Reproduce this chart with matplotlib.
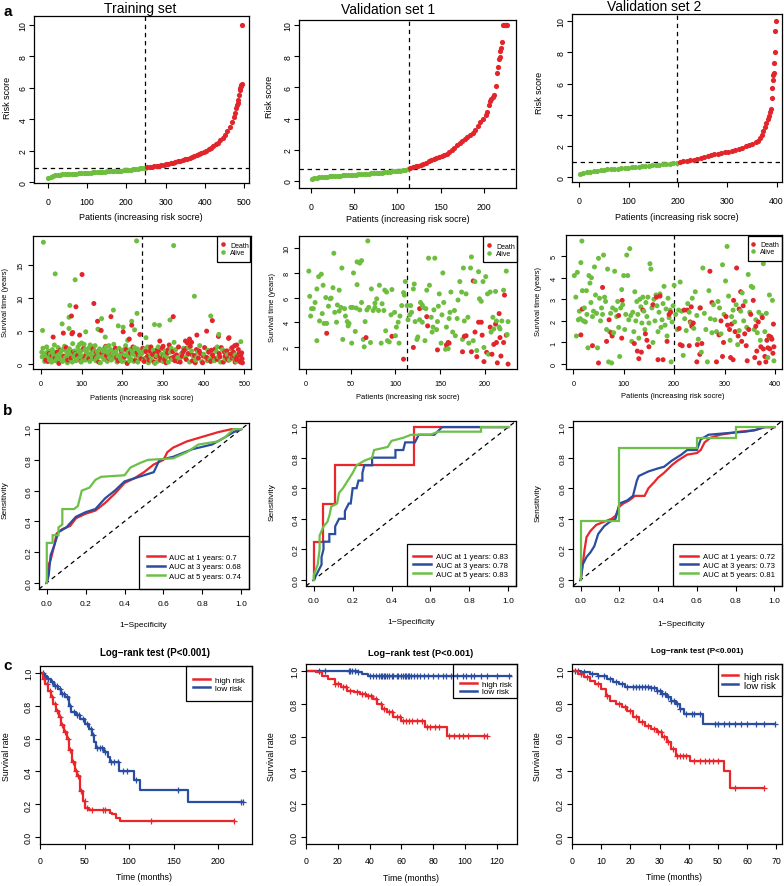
import numpy as np
import matplotlib.pyplot as plt
from matplotlib.patches import Rectangle
from matplotlib.lines import Line2D
from matplotlib.ticker import FormatStrFormatter

plt.rcParams['font.family'] = ['Liberation Sans', 'DejaVu Sans']
plt.rcParams['axes.linewidth'] = 0.9

RED = '#E2252B'
GREEN = '#6DBE3F'
LRED = '#E8262B'
LBLUE = '#2A4D9F'
LGREEN = '#6CC048'

# ---------------- data: risk score curves (patient index, risk score) ----------------
TRAIN_RISK = [(1, 0.28), (7, 0.36), (13, 0.41), (19, 0.44), (25, 0.46), (31, 0.48), (37, 0.49),
              (43, 0.50), (49, 0.51), (55, 0.52), (61, 0.53), (67, 0.54), (73, 0.55), (79, 0.56),
              (85, 0.57), (91, 0.58), (97, 0.59), (103, 0.60), (109, 0.61), (115, 0.62), (121, 0.63),
              (127, 0.64), (133, 0.65), (139, 0.66), (145, 0.67), (151, 0.68), (157, 0.69), (163, 0.70),
              (169, 0.71), (175, 0.72), (181, 0.73), (187, 0.74), (193, 0.76), (199, 0.77), (205, 0.79),
              (211, 0.80), (217, 0.82), (223, 0.84), (229, 0.86), (235, 0.88), (241, 0.90), (247, 0.92),
              (253, 0.95), (259, 0.97), (265, 0.99), (271, 1.01), (277, 1.04), (283, 1.06), (289, 1.09),
              (295, 1.12), (301, 1.15), (307, 1.18), (313, 1.21), (319, 1.25), (325, 1.29), (331, 1.33),
              (337, 1.37), (343, 1.41), (349, 1.45), (355, 1.50), (361, 1.55), (367, 1.60), (373, 1.65),
              (379, 1.71), (385, 1.77), (391, 1.84), (397, 1.91), (403, 2.00), (409, 2.08), (415, 2.18),
              (421, 2.28), (427, 2.40), (433, 2.52), (439, 2.66), (445, 2.82), (451, 3.00), (457, 3.22),
              (463, 3.50), (469, 3.85), (473, 4.15), (476, 4.40), (479, 4.70), (481, 4.90), (483, 5.05),
              (485, 5.25), (487, 5.55), (489, 5.85), (490, 6.00), (491, 6.10), (492, 6.20), (493, 6.25),
              (495, 10.0)]
VAL1_RISK = [(1, 0.15), (4, 0.18), (7, 0.21), (10, 0.23), (13, 0.25), (16, 0.27), (19, 0.28), (22, 0.30),
             (25, 0.31), (28, 0.32), (31, 0.34), (34, 0.35), (37, 0.36), (40, 0.37), (43, 0.38), (46, 0.39),
             (49, 0.40), (52, 0.41), (55, 0.42), (58, 0.43), (61, 0.44), (64, 0.45), (67, 0.47), (70, 0.48),
             (73, 0.50), (76, 0.51), (79, 0.53), (82, 0.54), (85, 0.56), (88, 0.58), (91, 0.60), (94, 0.61),
             (97, 0.63), (100, 0.65), (103, 0.67), (106, 0.70), (109, 0.73), (112, 0.78), (115, 0.83),
             (118, 0.88), (121, 0.93), (124, 0.99), (127, 1.05), (130, 1.11), (133, 1.18), (136, 1.25),
             (139, 1.32), (142, 1.38), (145, 1.45), (148, 1.52), (151, 1.60), (154, 1.68), (157, 1.76),
             (160, 1.85), (163, 1.98), (166, 2.12), (169, 2.28), (172, 2.45), (175, 2.58), (178, 2.70),
             (181, 2.82), (184, 2.93), (187, 3.05), (190, 3.25), (193, 3.50), (196, 3.75), (199, 4.00),
             (202, 4.25), (204, 4.45), (206, 4.85), (207, 5.10), (208, 5.25), (210, 5.40), (212, 5.50),
             (214, 6.10), (215, 6.90), (216, 7.30), (217, 7.80), (218, 7.95), (219, 8.35), (220, 8.50),
             (221, 8.90), (222, 10.0), (223, 10.0), (224, 10.0), (225, 10.0), (226, 10.0), (227, 10.0)]
VAL2_RISK = [(1, 0.22), (8, 0.28), (15, 0.33), (22, 0.37), (29, 0.40), (36, 0.43), (43, 0.46), (50, 0.48),
             (57, 0.50), (64, 0.52), (71, 0.54), (78, 0.56), (85, 0.58), (92, 0.60), (99, 0.62), (106, 0.64),
             (113, 0.66), (120, 0.68), (127, 0.70), (134, 0.72), (141, 0.74), (148, 0.76), (155, 0.78),
             (162, 0.80), (169, 0.82), (176, 0.85), (183, 0.88), (190, 0.91), (197, 0.94), (204, 0.98),
             (211, 1.02), (218, 1.05), (225, 1.08), (232, 1.12), (239, 1.17), (246, 1.22), (253, 1.28),
             (260, 1.34), (267, 1.40), (274, 1.46), (281, 1.52), (288, 1.57), (295, 1.61), (302, 1.65),
             (309, 1.70), (316, 1.75), (323, 1.82), (330, 1.90), (337, 1.98), (344, 2.06), (351, 2.15),
             (358, 2.25), (363, 2.35), (367, 2.50), (370, 2.70), (373, 2.95), (376, 3.20), (379, 3.45),
             (382, 3.70), (384, 3.90), (386, 4.15), (388, 4.40), (390, 5.10), (391, 5.70), (392, 6.25),
             (393, 6.55), (394, 6.70), (395, 7.30), (396, 8.05), (397, 9.35), (398, 10.0)]
CUT = {'train': (247, 0.92), 'val1': (113, 0.80), 'val2': (199, 0.96)}

# ---------------- data: survival time scatter (patient index, years) ----------------
TRAIN_ALIVE = [(6, 18.5), (35, 13.7), (84, 12.8), (235, 18.7), (326, 18.0), (377, 10.3), (417, 7.3),
               (4, 5.1), (52, 6.1), (71, 8.9), (69, 7.1), (69, 5.4), (178, 8.2), (149, 6.9), (190, 5.8),
               (202, 5.6), (223, 6.5), (236, 7.7), (279, 6.0), (291, 5.9), (317, 6.7), (327, 3.3),
               (437, 4.5), (140, 5.3), (143, 5.2), (158, 4.1), (213, 3.6), (230, 5.2), (258, 4.0),
               (110, 4.9), (100, 3.2), (125, 2.6), (95, 3.0),
               (3, 1.1), (5, 2.4), (8, 1.5), (10, 0.9), (13, 1.7), (16, 1.2), (18, 2.0), (21, 0.6),
               (23, 1.5), (26, 0.3), (28, 2.2), (31, 1.0), (34, 1.8), (36, 0.5), (39, 1.3), (42, 2.5),
               (45, 0.8), (47, 1.6), (50, 2.0), (53, 0.4), (55, 1.2), (58, 2.7), (60, 1.0), (63, 1.9),
               (65, 0.2), (68, 1.4), (70, 2.3), (73, 0.7), (76, 1.6), (78, 3.1), (81, 1.1), (83, 2.0),
               (86, 0.5), (88, 1.4), (91, 2.6), (93, 0.9), (96, 1.7), (99, 0.3), (101, 2.1), (104, 1.2),
               (106, 3.0), (109, 0.6), (112, 1.8), (114, 1.0), (117, 2.4), (120, 0.4), (122, 1.5),
               (125, 2.1), (127, 0.8), (130, 1.3), (133, 2.8), (135, 0.5), (138, 1.9), (141, 1.1),
               (144, 2.3), (146, 0.2), (149, 1.6), (152, 2.0), (155, 0.7), (157, 1.3), (160, 2.6),
               (163, 0.4), (165, 1.7), (168, 1.0), (171, 2.2), (173, 0.6), (176, 1.5), (179, 3.0),
               (181, 0.9), (184, 1.9), (187, 0.3), (189, 1.2), (192, 2.4), (195, 0.8), (197, 1.6),
               (200, 2.1), (203, 0.5), (206, 1.4), (208, 2.8), (211, 0.2), (214, 1.8), (216, 1.1),
               (219, 2.2), (222, 0.7), (225, 1.5), (228, 0.4), (230, 2.5), (233, 1.2), (238, 0.3),
               (241, 2.0), (244, 0.9), (248, 1.6), (252, 0.5), (256, 2.3), (260, 1.0), (264, 0.2),
               (268, 1.7), (272, 0.6), (276, 2.1), (280, 0.1), (284, 1.3), (288, 2.6), (292, 0.8),
               (296, 1.5), (300, 0.4), (305, 2.0), (309, 1.1), (313, 0.3), (318, 1.8), (322, 0.7),
               (331, 2.2), (336, 1.0), (340, 0.5), (345, 1.6), (350, 2.4), (355, 0.9), (360, 1.4),
               (365, 0.3), (370, 2.0), (374, 1.2), (380, 0.6), (385, 1.8), (390, 2.8), (395, 0.4),
               (400, 1.5), (405, 1.0), (410, 2.1), (415, 0.7), (420, 1.3), (426, 0.5), (431, 1.9),
               (436, 1.1), (441, 0.3), (446, 2.2), (452, 0.8), (458, 1.4), (463, 0.6), (468, 2.4),
               (474, 1.0), (480, 0.4), (486, 1.6), (491, 3.4),
               (2, 1.8), (9, 0.4), (14, 2.6), (19, 1.1), (24, 0.9), (29, 1.6), (33, 2.9), (38, 0.7),
               (43, 1.4), (49, 1.1), (54, 2.2), (59, 0.6), (64, 1.3), (72, 1.8), (77, 0.3), (85, 1.5),
               (92, 2.0), (97, 1.0), (103, 0.7), (108, 2.2), (115, 1.6), (121, 2.9), (126, 1.0),
               (131, 2.0), (137, 0.9), (143, 1.5), (151, 1.1), (156, 2.4), (162, 1.9), (167, 2.8),
               (174, 1.2), (180, 2.0), (186, 1.4), (194, 1.1), (199, 0.4), (207, 2.3), (213, 1.3),
               (218, 0.5), (224, 2.0), (231, 1.7), (237, 2.3), (243, 1.3), (251, 1.9), (262, 2.6),
               (270, 1.2), (286, 0.4), (303, 1.3), (320, 2.4), (343, 1.0), (362, 2.5), (383, 1.0),
               (408, 0.5), (433, 2.6), (455, 1.9), (477, 1.4)]
TRAIN_DEAD = [(101, 13.6), (130, 9.2), (86, 8.7), (75, 7.3), (30, 4.1), (55, 4.7), (78, 4.8), (95, 4.4),
              (139, 6.5), (148, 5.1), (172, 7.2), (202, 4.9), (217, 3.8), (223, 5.9), (243, 4.5),
              (325, 7.2), (365, 3.8), (370, 3.3), (383, 4.4), (407, 5.0), (421, 6.6), (436, 4.2),
              (461, 3.9), (481, 2.9), (76, 4.6), (292, 3.5), (300, 2.7), (355, 3.5), (360, 3.2),
              (462, 4.0), (470, 2.5), (476, 2.8),
              (12, 0.6), (20, 1.6), (27, 1.3), (35, 0.9), (44, 0.1), (48, 2.1), (57, 1.2), (62, 2.5),
              (74, 0.9), (80, 1.9), (90, 1.3), (98, 0.4), (105, 2.4), (111, 1.4), (118, 0.8), (128, 2.3),
              (134, 1.0), (142, 0.3), (150, 1.7), (159, 2.7), (166, 0.9), (175, 1.5), (183, 2.4),
              (190, 0.5), (198, 2.0), (205, 1.1), (212, 0.1), (220, 1.7), (226, 2.6), (232, 0.6),
              (239, 1.4), (246, 0.8), (250, 2.4), (254, 0.4), (258, 1.9), (262, 1.2), (266, 0.6),
              (270, 2.6), (274, 1.5), (278, 0.3), (282, 1.1), (286, 2.2), (290, 1.8), (294, 0.6),
              (298, 2.4), (302, 1.3), (307, 0.2), (311, 1.7), (315, 2.9), (320, 0.9), (324, 1.9),
              (329, 0.5), (333, 1.4), (338, 2.6), (342, 0.3), (347, 1.2), (352, 2.1), (357, 0.7),
              (362, 1.6), (367, 2.7), (372, 0.5), (377, 1.3), (382, 2.2), (387, 0.9), (392, 1.6),
              (397, 0.2), (402, 2.5), (407, 1.0), (412, 1.8), (417, 0.4), (422, 1.4), (428, 2.3),
              (433, 0.7), (438, 1.6), (443, 2.5), (448, 0.3), (453, 1.2), (456, 2.0), (460, 0.6),
              (465, 1.5), (470, 0.9), (473, 1.8), (477, 0.3), (482, 1.1), (485, 2.2), (488, 0.5),
              (491, 1.3), (494, 0.8), (495, 0.2),
              (17, 0.4), (40, 1.8), (66, 0.6), (84, 1.6), (108, 0.9), (136, 1.8), (161, 1.3), (186, 1.0),
              (209, 2.2), (236, 1.8), (257, 0.9), (268, 2.0), (280, 1.6), (292, 1.2), (304, 0.7),
              (313, 2.2), (327, 1.1), (336, 0.4), (349, 1.8), (358, 2.4), (369, 1.5), (379, 0.2),
              (389, 2.0), (399, 1.2), (410, 0.8), (419, 2.1), (425, 0.9), (440, 1.1), (451, 1.8),
              (458, 0.8), (467, 2.3), (475, 1.2), (480, 0.7), (487, 1.6), (490, 0.3), (493, 1.7)]

VAL1_ALIVE = [(3, 8.15), (4, 6.1), (5, 4.5), (6, 5.1), (8, 5.1), (10, 5.6), (12, 6.7), (12, 2.5), (14, 7.7),
              (15, 4.1), (17, 7.9), (18, 4.7), (19, 7.0), (20, 3.9), (22, 6.0), (23, 3.9), (25, 5.3),
              (27, 5.9), (28, 5.96), (30, 6.8), (31, 9.6), (32, 4.8), (34, 4.0), (35, 5.4), (37, 6.6),
              (37, 4.9), (39, 5.2), (40, 8.4), (41, 2.6), (43, 5.1), (44, 4.5), (46, 4.05), (47, 3.7),
              (48, 3.9), (50, 5.2), (51, 2.3), (52, 5.2), (53, 8.0), (55, 3.25), (56, 5.15), (57, 8.9),
              (57, 7.05), (60, 8.8), (60, 5.0), (62, 9.0), (62, 5.6), (64, 2.6), (65, 2.0), (66, 4.05),
              (68, 5.0), (69, 10.6), (70, 5.2), (72, 2.35), (73, 6.7), (75, 4.95), (77, 5.55), (77, 5.2),
              (79, 5.9), (81, 4.95), (82, 7.0), (84, 2.3), (85, 5.5), (87, 4.95), (88, 6.6), (89, 3.3),
              (90, 6.45), (91, 2.5), (93, 2.4), (95, 4.6), (96, 6.65), (99, 4.8), (100, 2.9), (101, 3.6),
              (103, 4.0), (104, 2.3), (105, 4.5), (107, 5.35), (109, 6.4), (110, 6.2), (111, 7.3),
              (113, 5.35), (114, 4.2), (116, 4.6), (117, 5.35), (118, 4.8), (120, 6.7), (121, 7.1),
              (122, 4.05), (124, 2.6), (125, 2.8), (127, 4.2), (128, 5.6), (130, 5.4), (130, 4.0),
              (131, 5.2), (133, 2.5), (134, 5.1), (135, 6.6), (137, 9.2), (138, 7.0), (140, 4.4),
              (141, 3.2), (142, 3.6), (143, 5.0), (144, 9.2), (146, 3.4), (147, 4.05), (148, 5.3),
              (149, 6.3), (151, 2.3), (152, 4.6), (153, 8.0), (154, 5.6), (156, 1.8), (157, 3.6),
              (159, 1.85), (160, 4.3), (161, 4.8), (162, 6.45), (164, 3.2), (166, 4.95), (167, 2.9),
              (169, 4.3), (170, 5.8), (172, 7.3), (174, 6.45), (175, 2.6), (176, 8.4), (177, 4.1),
              (179, 6.3), (181, 4.4), (182, 2.3), (184, 8.4), (185, 9.3), (187, 2.5), (189, 7.3),
              (191, 1.7), (193, 8.1), (194, 5.9), (196, 5.7), (198, 7.3), (199, 1.95), (201, 7.7),
              (203, 6.3), (204, 1.4), (206, 6.45), (207, 3.2), (209, 4.4), (210, 3.45), (212, 6.5),
              (213, 4.1), (216, 3.6), (217, 3.45), (219, 4.1), (221, 6.6), (224, 8.15), (225, 3.0),
              (226, 4.05)]
VAL1_DEAD = [(23, 3.1), (67, 2.75), (96, 2.85), (109, 1.0), (120, 1.95), (127, 5.1), (135, 4.45),
             (136, 3.7), (147, 1.75), (157, 2.15), (159, 2.35), (160, 2.3), (175, 1.6), (177, 2.85),
             (179, 2.9), (185, 1.6), (187, 7.35), (189, 3.2), (191, 1.2), (193, 4.0), (196, 4.0),
             (197, 2.95), (199, 0.8), (202, 1.55), (206, 3.6), (208, 1.4), (210, 2.2), (212, 3.85),
             (213, 2.35), (214, 0.7), (216, 4.7), (217, 2.75), (218, 1.25), (221, 2.35), (222, 6.2),
             (224, 2.95), (226, 0.6)]

VAL2_ALIVE = [(2, 4.1), (5, 3.1), (6, 1.3), (8, 4.25), (10, 2.05), (12, 2.45), (14, 2.1), (15, 4.7),
              (17, 5.7), (18, 3.4), (20, 2.0), (22, 2.6), (24, 1.95), (26, 3.4), (27, 2.3), (29, 0.75),
              (31, 4.1), (33, 3.75), (35, 2.85), (36, 4.0), (38, 2.2), (40, 2.45), (42, 4.5), (44, 3.2),
              (46, 2.35), (48, 0.75), (50, 4.9), (52, 3.05), (54, 2.0), (56, 2.6), (58, 2.3), (60, 5.05),
              (62, 3.1), (64, 2.9), (66, 1.6), (68, 4.4), (70, 0.1), (72, 1.5), (74, 2.35), (76, 0.05),
              (78, 2.6), (80, 1.45), (82, 4.3), (84, 2.5), (86, 2.2), (88, 2.9), (90, 1.7), (92, 0.35),
              (94, 2.6), (96, 3.45), (98, 2.75), (100, 4.1), (102, 1.6), (104, 2.3), (106, 5.05),
              (108, 4.1), (110, 2.05), (112, 5.35), (114, 2.25), (116, 1.05), (118, 2.4), (120, 1.5),
              (122, 3.35), (124, 2.0), (126, 2.9), (128, 2.3), (130, 1.2), (132, 3.0), (134, 2.65),
              (136, 1.9), (138, 3.1), (140, 2.45), (142, 1.6), (144, 2.85), (146, 2.2), (148, 3.1),
              (150, 1.9), (152, 4.65), (154, 4.4), (156, 2.6), (158, 1.0), (160, 3.0), (162, 2.0),
              (164, 3.2), (166, 2.7), (168, 1.5), (170, 2.4), (172, 3.25), (174, 1.7), (176, 2.05),
              (178, 2.8), (180, 3.6), (182, 1.8), (184, 2.55), (186, 1.3), (188, 3.05), (190, 2.15),
              (192, 2.5), (194, 0.1), (196, 1.95), (198, 2.7), (200, 3.65), (203, 2.3), (206, 1.6),
              (209, 2.5), (212, 3.8), (215, 2.45), (218, 0.4), (221, 2.1), (224, 1.55), (227, 2.8),
              (230, 2.4), (233, 1.9), (236, 3.05), (239, 1.65), (242, 3.35), (245, 2.25), (248, 1.15),
              (251, 2.6), (254, 0.55), (257, 4.45), (260, 2.35), (263, 1.6), (266, 0.1), (269, 3.4),
              (272, 2.1), (275, 1.45), (278, 2.75), (281, 2.05), (284, 1.5), (287, 2.9), (290, 2.6),
              (293, 1.4), (296, 4.6), (299, 2.3), (302, 3.85), (305, 5.45), (308, 3.15), (311, 1.1),
              (314, 2.2), (317, 2.5), (320, 1.95), (323, 2.75), (326, 0.9), (329, 1.55), (332, 2.45),
              (335, 3.3), (338, 2.0), (341, 2.9), (344, 1.7), (347, 4.15), (350, 2.4), (353, 3.6),
              (356, 3.55), (359, 1.6), (362, 2.05), (365, 1.45), (368, 2.4), (371, 1.1), (374, 2.25),
              (377, 4.65), (380, 1.5), (383, 2.35), (386, 0.3), (389, 3.2), (392, 1.2), (395, 2.95),
              (398, 0.15)]
VAL2_DEAD = [(15, 1.35), (18, 2.55), (38, 0.85), (50, 0.05), (58, 3.55), (66, 1.05), (71, 2.05),
             (75, 1.45), (77, 1.3), (90, 2.25), (96, 1.2), (97, 2.95), (121, 0.95), (127, 0.6), (130, 0.25),
             (135, 0.55), (138, 2.5), (143, 1.4), (146, 1.1), (150, 0.8), (158, 2.75), (165, 3.1),
             (168, 0.2), (172, 3.15), (178, 0.2), (186, 1.05), (190, 2.3), (193, 2.4), (210, 1.65),
             (212, 0.9), (216, 0.85), (220, 2.5), (226, 2.5), (230, 0.85), (232, 1.95), (234, 2.65),
             (235, 1.75), (238, 1.9), (245, 0.1), (246, 0.9), (251, 0.45), (252, 2.6), (255, 0.95),
             (271, 4.3), (275, 2.85), (284, 0.1), (289, 1.35), (293, 2.0), (296, 0.35), (298, 1.0),
             (303, 2.2), (306, 1.8), (310, 1.6), (312, 0.3), (314, 1.85), (317, 0.2), (318, 2.95),
             (321, 1.5), (324, 4.45), (327, 1.3), (329, 2.55), (332, 3.35), (334, 1.05), (337, 2.7),
             (340, 1.4), (343, 0.85), (345, 0.15), (348, 1.6), (352, 2.3), (357, 2.95), (360, 0.3),
             (362, 1.75), (364, 0.6), (367, 1.95), (369, 0.05), (372, 0.8), (375, 2.15), (377, 0.7),
             (380, 0.35), (382, 0.1), (384, 1.1), (386, 0.75), (388, 1.3), (390, 0.7), (392, 1.25),
             (394, 1.15), (396, 0.5), (397, 1.85), (398, 0.8)]

# ---------------- data: ROC curves (1-specificity, sensitivity) ----------------
AUC_LABELS = {
    'train': ['AUC at 1 years: 0.7', 'AUC at 3 years: 0.68', 'AUC at 5 years: 0.74'],
    'val1': ['AUC at 1 years: 0.83', 'AUC at 3 years: 0.78', 'AUC at 5 years: 0.83'],
    'val2': ['AUC at 1 years: 0.72', 'AUC at 3 years: 0.73', 'AUC at 5 years: 0.81'],
}
TRAIN_ROC_1 = [(0, 0), (0.01, 0.12), (0.02, 0.15), (0.04, 0.25), (0.05, 0.32), (0.08, 0.35), (0.12, 0.37),
               (0.15, 0.42), (0.2, 0.45), (0.25, 0.47), (0.3, 0.52), (0.35, 0.58), (0.4, 0.65), (0.45, 0.68),
               (0.5, 0.72), (0.55, 0.77), (0.6, 0.80), (0.62, 0.85), (0.65, 0.88), (0.72, 0.92), (0.8, 0.95),
               (0.88, 0.98), (0.95, 1.0), (1, 1)]
TRAIN_ROC_3 = [(0, 0), (0.01, 0.05), (0.02, 0.18), (0.04, 0.25), (0.06, 0.33), (0.1, 0.36), (0.15, 0.43),
               (0.2, 0.46), (0.25, 0.48), (0.3, 0.55), (0.35, 0.6), (0.4, 0.66), (0.5, 0.7), (0.55, 0.72),
               (0.58, 0.8), (0.65, 0.82), (0.75, 0.87), (0.85, 0.9), (0.92, 0.95), (0.96, 0.98), (1, 1)]
TRAIN_ROC_5 = [(0, 0), (0, 0.26), (0.03, 0.26), (0.03, 0.31), (0.06, 0.31), (0.06, 0.36), (0.08, 0.38),
               (0.08, 0.48), (0.14, 0.48), (0.16, 0.5), (0.18, 0.6), (0.22, 0.62), (0.25, 0.67), (0.28, 0.69),
               (0.4, 0.7), (0.43, 0.75), (0.48, 0.78), (0.52, 0.8), (0.65, 0.81), (0.72, 0.85), (0.78, 0.9),
               (0.88, 0.92), (0.92, 0.95), (0.96, 1.0), (1, 1)]
VAL1_ROC_1 = [(0, 0), (0, 0.25), (0.045, 0.25), (0.045, 0.5), (0.11, 0.5), (0.11, 0.75), (0.515, 0.75),
              (0.515, 1.0), (1, 1)]
VAL1_ROC_3 = [(0, 0), (0.02, 0.05), (0.04, 0.1), (0.04, 0.15), (0.05, 0.2), (0.05, 0.25), (0.08, 0.25),
              (0.08, 0.3), (0.11, 0.3), (0.11, 0.35), (0.13, 0.4), (0.16, 0.4), (0.16, 0.45), (0.18, 0.5),
              (0.19, 0.5), (0.2, 0.6), (0.22, 0.6), (0.23, 0.65), (0.25, 0.65), (0.25, 0.7), (0.26, 0.75),
              (0.3, 0.75), (0.3, 0.8), (0.42, 0.8), (0.42, 0.85), (0.46, 0.85), (0.47, 0.9), (0.52, 0.9),
              (0.54, 0.95), (0.62, 0.95), (0.66, 1.0), (1, 1)]
VAL1_ROC_5 = [(0, 0), (0, 0.03), (0.02, 0.1), (0.03, 0.2), (0.03, 0.29), (0.05, 0.35), (0.07, 0.38),
              (0.08, 0.42), (0.09, 0.48), (0.12, 0.5), (0.13, 0.57), (0.15, 0.6), (0.18, 0.66), (0.2, 0.7),
              (0.22, 0.75), (0.26, 0.78), (0.3, 0.8), (0.31, 0.85), (0.38, 0.87), (0.4, 0.91), (0.46, 0.93),
              (0.5, 0.95), (0.6, 0.95), (0.64, 0.97), (0.86, 0.97), (0.86, 1.0), (1, 1)]
VAL2_ROC_1 = [(0, 0), (0.01, 0.1), (0.02, 0.2), (0.03, 0.28), (0.05, 0.32), (0.08, 0.36), (0.12, 0.38),
              (0.16, 0.4), (0.18, 0.42), (0.2, 0.48), (0.22, 0.5), (0.25, 0.52), (0.28, 0.55), (0.33, 0.55),
              (0.35, 0.6), (0.38, 0.64), (0.4, 0.67), (0.43, 0.7), (0.47, 0.75), (0.5, 0.78), (0.55, 0.82),
              (0.6, 0.83), (0.62, 0.85), (0.64, 0.9), (0.67, 0.93), (0.72, 0.95), (0.82, 0.97),
              (0.9, 0.98), (0.95, 1.0), (1, 1)]
VAL2_ROC_3 = [(0, 0), (0.01, 0.1), (0.03, 0.15), (0.05, 0.18), (0.07, 0.22), (0.09, 0.3), (0.12, 0.35),
              (0.15, 0.38), (0.18, 0.4), (0.2, 0.5), (0.24, 0.52), (0.27, 0.55), (0.29, 0.65), (0.3, 0.68),
              (0.35, 0.71), (0.4, 0.73), (0.43, 0.74), (0.47, 0.78), (0.52, 0.82), (0.55, 0.85), (0.6, 0.85),
              (0.62, 0.92), (0.66, 0.95), (0.75, 0.96), (0.85, 0.97), (0.9, 0.98), (0.95, 1.0), (1, 1)]
VAL2_ROC_5 = [(0, 0), (0, 0.385), (0.2, 0.385), (0.2, 0.865), (0.6, 0.865), (0.6, 0.93), (0.8, 0.93),
              (0.8, 1.0), (1, 1)]

# ---------------- data: Kaplan-Meier curves (months, survival) ----------------
TRAIN_HIGH_T = [0, 3, 6, 9, 12, 15, 18, 21, 24, 27, 30, 33, 36, 39, 42, 45, 48, 51, 55, 78, 81, 85, 90]
TRAIN_HIGH_S = [1.0, 0.96, 0.93, 0.89, 0.85, 0.81, 0.77, 0.73, 0.68, 0.64, 0.60, 0.53, 0.46, 0.40, 0.37,
                0.28, 0.22, 0.18, 0.165, 0.15, 0.14, 0.12, 0.10]
TRAIN_HIGH_END = 218
TRAIN_HIGH_CENS = [5, 8, 11, 14, 17, 19, 22, 25, 28, 31, 34, 37, 40, 43, 46, 50, 53, 58, 71, 73, 125, 218]
TRAIN_LOW_T = [0, 4, 8, 12, 16, 20, 24, 28, 32, 35, 40, 45, 50, 55, 58, 61, 63, 72, 76, 78, 89, 105, 112, 166]
TRAIN_LOW_S = [1.0, 0.98, 0.96, 0.94, 0.92, 0.90, 0.87, 0.85, 0.80, 0.76, 0.74, 0.72, 0.69, 0.66, 0.62,
               0.58, 0.545, 0.52, 0.49, 0.46, 0.40, 0.35, 0.29, 0.215]
TRAIN_LOW_END = 228
TRAIN_LOW_CENS = [3, 6, 9, 13, 17, 19, 22, 25, 27, 30, 34, 38, 42, 44, 48, 53, 57, 60, 64, 67, 70, 73, 80,
                  83, 87, 93, 98, 108, 155, 225, 228]

VAL1_HIGH_T = [0, 6, 10, 14, 18, 22, 26, 30, 34, 38, 42, 45, 48, 51, 55, 60, 75, 88.5]
VAL1_HIGH_S = [1.0, 0.99, 0.97, 0.95, 0.92, 0.90, 0.88, 0.87, 0.86, 0.85, 0.83, 0.80, 0.77, 0.75, 0.72,
               0.70, 0.663, 0.61]
VAL1_HIGH_END = 114
VAL1_HIGH_CENS = [18, 20, 23, 25, 28, 32, 35, 37, 39, 41, 44, 47, 49, 52, 54, 57, 59, 61, 63, 65, 67, 70,
                  73, 76, 78, 81, 84, 90, 93, 96, 99, 102, 112, 114]
VAL1_LOW_T = [0, 33, 35, 39]
VAL1_LOW_S = [1.0, 0.99, 0.98, 0.966]
VAL1_LOW_END = 129
VAL1_LOW_CENS = [8, 12, 27, 28, 29, 31, 33, 40, 42, 44, 46, 47, 48, 49, 50, 51, 52, 54, 55, 57, 58, 60, 61,
                 62, 63, 64, 65, 66, 68, 70, 72, 74, 77, 80, 83, 86, 88, 91, 95, 99, 101, 104, 106, 110,
                 114, 120, 128]

VAL2_HIGH_T = [0, 2, 4, 6, 8, 10, 11.5, 13, 15, 17, 19, 21, 23, 25, 27, 29, 31, 32.5, 34, 35.5, 40.5,
               52, 54.2]
VAL2_HIGH_S = [1.0, 0.98, 0.96, 0.94, 0.92, 0.89, 0.85, 0.82, 0.80, 0.78, 0.76, 0.72, 0.69, 0.67, 0.65,
               0.63, 0.60, 0.57, 0.53, 0.49, 0.457, 0.396, 0.296]
VAL2_HIGH_END = 66
VAL2_HIGH_CENS = [3, 5, 9, 12, 16, 18, 20, 22, 24, 26, 28, 29.5, 30.5, 31.5, 33, 34.5, 36, 37, 38, 39, 42,
                  44, 45.5, 47, 48.5, 50, 56, 66]
VAL2_LOW_T = [0, 3, 6, 9, 12, 14, 16, 18, 27, 29, 31, 32.5, 34, 35.5, 37, 38.5, 45]
VAL2_LOW_S = [1.0, 0.99, 0.98, 0.97, 0.95, 0.93, 0.92, 0.90, 0.895, 0.88, 0.86, 0.84, 0.82, 0.80, 0.77,
              0.74, 0.68]
VAL2_LOW_END = 69.5
VAL2_LOW_CENS = [1, 2, 4, 7, 9, 11, 13, 15, 17, 19, 21, 22, 23, 24, 25, 26, 27, 28, 29, 30, 31, 32, 33,
                 34, 35, 36, 37, 39, 41, 42, 44, 49, 50, 52, 54, 56, 58, 60, 63, 66, 69.5]

# ---------------- layout helpers (pixel boxes on a 784x887 canvas) ----------------
W, H = 784, 887
fig = plt.figure(figsize=(W / 100, H / 100), dpi=100)


def px_axes(l, t, r, b):
    return fig.add_axes([l / W, 1 - b / H, (r - l) / W, (b - t) / H])


def px_text(x, y, s, size, rot=0, weight='normal'):
    fig.text(x / W, 1 - y / H, s, fontsize=size, rotation=rot, ha='center', va='center',
             fontweight=weight)


def px_rect(l, t, r, b):
    fig.add_artist(Rectangle((l / W, 1 - b / H), (r - l) / W, (b - t) / H, transform=fig.transFigure,
                             fill=False, ec='black', lw=0.9, zorder=5))


def r_axis(ax, xticks, yticks, fs, xpad, ypad, yfmt=None):
    ax.set_xticks(xticks)
    ax.set_yticks(yticks)
    if yfmt:
        ax.yaxis.set_major_formatter(FormatStrFormatter(yfmt))
        ax.xaxis.set_major_formatter(FormatStrFormatter(yfmt))
    ax.tick_params(axis='x', length=3.5, width=0.8, labelsize=fs, pad=xpad)
    ax.tick_params(axis='y', length=3.5, width=0.8, labelsize=fs, pad=ypad, labelrotation=90)
    for lab in ax.get_yticklabels():
        lab.set_va('center')


def legend_at(ax, handles, labels, hx, ymid, fs, hlen, spacing, tpad):
    ax.legend(handles, labels, loc='center left', bbox_to_anchor=(hx / W, 1 - ymid / H),
              bbox_transform=fig.transFigure, frameon=False, borderpad=0, borderaxespad=0,
              fontsize=fs, handlelength=hlen, handletextpad=tpad, labelspacing=spacing)


# ---------------- row 1: risk score ----------------
risk_specs = [
    ('train', TRAIN_RISK, (34, 17, 249, 184), (-35, 512), (-0.05, 10.55), [0, 100, 200, 300, 400, 500]),
    ('val1', VAL1_RISK, (299, 21, 516, 189), (-13.5, 237), (-0.45, 10.32), [0, 50, 100, 150, 200]),
    ('val2', VAL2_RISK, (572, 15, 782, 183), (-15, 411), (-0.3, 10.45), [0, 100, 200, 300, 400]),
]
for key, pts, box, xl, yl, xt in risk_specs:
    ax = px_axes(*box)
    idx, score = np.array(pts).T
    cx, cy = CUT[key]
    low = idx <= cx
    ax.scatter(idx[low], score[low], s=14, color=GREEN, lw=0, zorder=3)
    ax.scatter(idx[~low], score[~low], s=14, color=RED, lw=0, zorder=3)
    ax.axvline(cx, color='black', ls=(0, (3.5, 3)), lw=0.9)
    ax.axhline(cy, color='black', ls=(0, (3.5, 3)), lw=0.9)
    ax.set_xlim(*xl)
    ax.set_ylim(*yl)
    r_axis(ax, xt, [0, 2, 4, 6, 8, 10], 6.3, 6.5, 1.0)

px_text(140, 9, 'Training set', 10)
px_text(388, 10, 'Validation set 1', 10)
px_text(654, 7, 'Validation set 2', 10)
for x, y in [(141, 218), (408, 220), (677, 218)]:
    px_text(x, y, 'Patients (increasing risk socre)', 6.5)
for x, y in [(7, 98), (270, 97), (539, 93)]:
    px_text(x, y, 'Risk score', 6.5, rot=90)

# ---------------- row 2: survival status ----------------
surv_specs = [
    ('train', TRAIN_ALIVE, TRAIN_DEAD, (33, 237, 251, 370), (-19.5, 516), (-0.75, 19.45),
     [0, 100, 200, 300, 400, 500], [0, 5, 10, 15], 248, (216.7, 237, 250.5, 262.7), 223.3, 250),
    ('val1', VAL1_ALIVE, VAL1_DEAD, (299, 237, 517, 370), (-8, 236), (0.2, 11.0),
     [0, 50, 100, 150, 200], [2, 4, 6, 8, 10], 113.4, (482.7, 237, 517, 263), 489.3, 250.8),
    ('val2', VAL2_ALIVE, VAL2_DEAD, (566, 236, 782, 370), (-14.5, 414), (-0.23, 5.98),
     [0, 100, 200, 300, 400], [0, 1, 2, 3, 4, 5], 199.7, (748.3, 236.7, 782, 261.7), 753.3, 249.2),
]
for key, alive, dead, box, xl, yl, xt, yt, vx, lbox, mx, my in surv_specs:
    ax = px_axes(*box)
    a = np.array(alive)
    d = np.array(dead)
    allp = np.vstack([a, d])
    cols = np.array([GREEN] * len(a) + [RED] * len(d))
    order = np.argsort(allp[:, 0], kind='stable')
    ax.scatter(allp[order, 0], allp[order, 1], s=13, c=cols[order], lw=0, zorder=3)
    ax.axvline(vx, color='black', ls=(0, (3.5, 3)), lw=0.9)
    ax.set_xlim(*xl)
    ax.set_ylim(*yl)
    r_axis(ax, xt, yt, 5.2, 4.5, 2.5)
    px_rect(*lbox)
    handles = [Line2D([], [], ls='none', marker='o', ms=3.3, color=RED, mew=0),
               Line2D([], [], ls='none', marker='o', ms=3.3, color=GREEN, mew=0)]
    legend_at(ax, handles, ['Death', 'Alive'], mx - 3.5, my, 5.0, 1.0, 0.05, 0.5)

for x, y in [(142, 399), (408, 398), (673, 397)]:
    px_text(x, y, 'Patients (increasing risk socre)', 5.4)
for x, y in [(6, 303), (272, 307), (538, 302)]:
    px_text(x, y, 'Survival time (years)', 5.4, rot=90)

# ---------------- row 3: ROC ----------------
roc_specs = [
    ('train', (TRAIN_ROC_1, TRAIN_ROC_3, TRAIN_ROC_5), (39, 424, 249, 590), (139.3, 537.3, 249.3, 590),
     146.7, 567.5, 0.24),
    ('val1', (VAL1_ROC_1, VAL1_ROC_3, VAL1_ROC_5), (306, 422, 516, 587), (406.7, 545, 516, 587),
     413, 566.3, 0.14),
    ('val2', (VAL2_ROC_1, VAL2_ROC_3, VAL2_ROC_5), (573, 422, 782, 587), (673, 545, 782, 587),
     680, 566.3, 0.14),
]
for key, curves, box, lbox, hx, hy, sp in roc_specs:
    ax = px_axes(*box)
    ax.axline((0, 0), (1, 1), color='black', ls=(0, (3.5, 3)), lw=0.9)
    for pts, col in zip(curves, [LRED, LBLUE, LGREEN]):
        fpr, tpr = np.array(pts).T
        ax.plot(fpr, tpr, color=col, lw=1.6, solid_joinstyle='miter')
    ax.set_xlim(-0.04, 1.04)
    ax.set_ylim(-0.04, 1.04)
    ticks = [0, 0.2, 0.4, 0.6, 0.8, 1.0]
    r_axis(ax, ticks, ticks, 6.0, 4.5, 1.0, yfmt='%.1f')
    px_rect(*lbox)
    handles = [Line2D([], [], color=c, lw=1.8) for c in [LRED, LBLUE, LGREEN]]
    legend_at(ax, handles, AUC_LABELS[key], hx, hy, 5.6, 2.3, sp, 0.6)

for x, y in [(143, 626), (411, 623), (681, 624)]:
    px_text(x, y, '1\u2212Specificity', 6.0)
for x, y in [(5, 500), (272, 502), (538, 503)]:
    px_text(x, y, 'Sensitivity', 6.0, rot=90)

# ---------------- row 4: Kaplan-Meier ----------------
km_specs = [
    ((TRAIN_HIGH_T, TRAIN_HIGH_S, TRAIN_HIGH_END, TRAIN_HIGH_CENS),
     (TRAIN_LOW_T, TRAIN_LOW_S, TRAIN_LOW_END, TRAIN_LOW_CENS),
     (40, 667, 252, 845), 237.8, [0, 50, 100, 150, 200], (186, 667.3, 252.3, 701.7), 193.3, 685, 5.9, 0.07,
     (154.7, 653.3, 7.0)),
    ((VAL1_HIGH_T, VAL1_HIGH_S, VAL1_HIGH_END, VAL1_HIGH_CENS),
     (VAL1_LOW_T, VAL1_LOW_S, VAL1_LOW_END, VAL1_LOW_CENS),
     (306, 665, 517, 845), 132.8, [0, 20, 40, 60, 80, 100, 120], (453, 665, 517, 699), 460, 688.7, 5.9, 0.0,
     (420.8, 653.3, 6.7)),
    ((VAL2_HIGH_T, VAL2_HIGH_S, VAL2_HIGH_END, VAL2_HIGH_CENS),
     (VAL2_LOW_T, VAL2_LOW_S, VAL2_LOW_END, VAL2_LOW_CENS),
     (572, 665, 782, 845), 72.0, [0, 10, 20, 30, 40, 50, 60, 70], (718.3, 665, 782, 697.3), 721.7, 681.7,
     6.8, 0.0, (696.7, 651.7, 5.9)),
]
for high, low, box, xmax, xt, lbox, hx, hy, lfs, sp, (tx, ty, tfs) in km_specs:
    ax = px_axes(*box)
    for (t, s, t_end, cens), col in [(low, LBLUE), (high, LRED)]:
        t = np.array(t, dtype=float)
        s = np.array(s, dtype=float)
        ax.step(np.append(t, t_end), np.append(s, s[-1]), where='post', color=col, lw=1.6)
        at = np.searchsorted(t, cens, side='right') - 1
        ax.plot(cens, s[at], ls='none', marker='+', ms=5, mew=0.9, color=col)
    ax.set_xlim(0, xmax)
    ax.set_ylim(-0.04, 1.04)
    r_axis(ax, xt, [0, 0.2, 0.4, 0.6, 0.8, 1.0], 6.3, 5.0, 1.5)
    ax.yaxis.set_major_formatter(FormatStrFormatter('%.1f'))
    px_rect(*lbox)
    handles = [Line2D([], [], color=LRED, lw=1.8), Line2D([], [], color=LBLUE, lw=1.8)]
    hlen = 16.7 / (lfs * 100 / 72)
    legend_at(ax, handles, ['high risk', 'low risk'], hx, hy, lfs, hlen, sp, 0.6)
    px_text(tx, ty, 'Log\u2212rank test (P<0.001)', tfs, weight='bold')

for x, y in [(144, 878), (411, 879), (674, 878)]:
    px_text(x, y, 'Time (months)', 6.3)
for x, y in [(7, 757), (272, 757), (538, 757)]:
    px_text(x, y, 'Survival rate', 6.3, rot=90)

# panel letters
px_text(8, 12, 'a', 11, weight='bold')
px_text(8, 411, 'b', 11, weight='bold')
px_text(8, 666, 'c', 11, weight='bold')

fig.savefig('out.png', dpi=100)
